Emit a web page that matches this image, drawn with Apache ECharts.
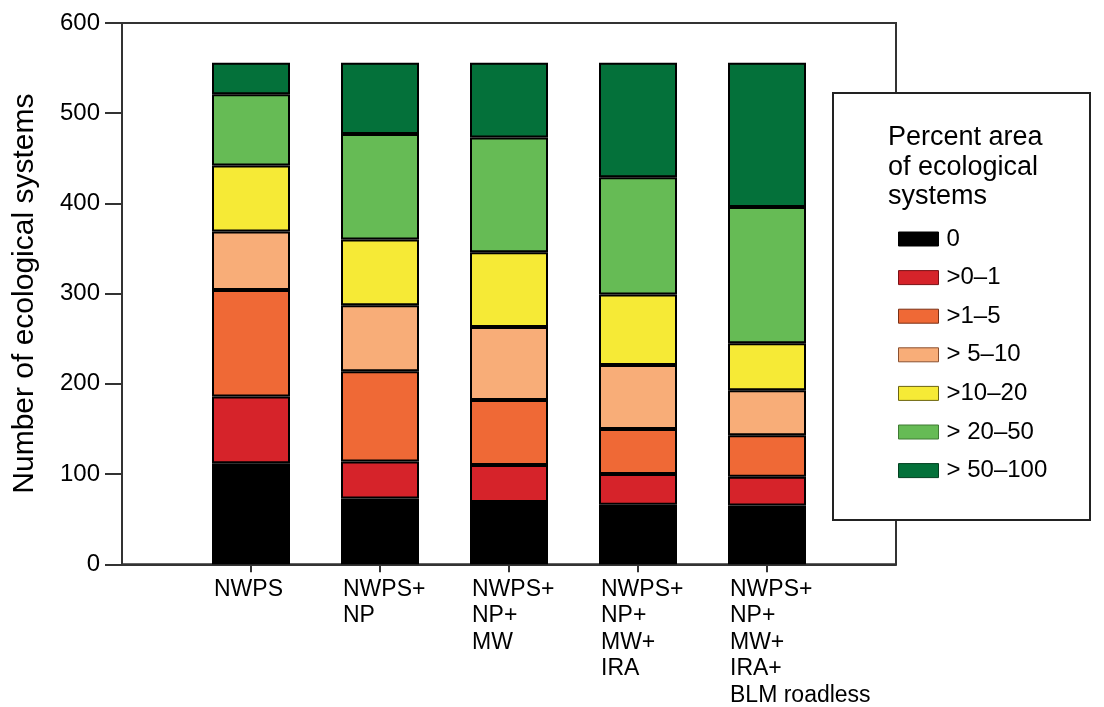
<!DOCTYPE html>
<html>
<head>
<meta charset="utf-8">
<script src="https://cdn.jsdelivr.net/npm/echarts@6/dist/echarts.min.js"></script>
<style>html,body{margin:0;padding:0;background:#fff;}#c{width:1104px;height:707px;}</style>
</head>
<body>
<div id="c"></div>
<script>
const categories = ['NWPS', 'NWPS+\nNP', 'NWPS+\nNP+\nMW', 'NWPS+\nNP+\nMW+\nIRA', 'NWPS+\nNP+\nMW+\nIRA+\nBLM roadless'];
const classNames = ['0', '>0–1', '>1–5', '> 5–10', '>10–20', '> 20–50', '> 50–100'];
const zero    = [112, 73, 69, 66, 65];
const r0_1    = [74, 41, 41, 34, 32];
const r1_5    = [118, 100, 72, 50, 46];
const r5_10   = [65, 73, 81, 71, 50];
const r10_20  = [73, 73, 83, 78, 52];
const r20_50  = [79, 117, 127, 130, 151];
const r50_100 = [35, 79, 83, 127, 160];
const yTicks = [0, 100, 200, 300, 400, 500, 600];

const colors = ['#000000', '#d6232a', '#ef6936', '#f8ad78', '#f6ea36', '#66bb55', '#04713a'];
const legendBorders = ['#000000', '#7a1014', '#7a3015', '#8a5030', '#6b6410', '#3f7a33', '#02401f'];
const seriesValues = [zero, r0_1, r1_5, r5_10, r10_20, r20_50, r50_100];
const FONT = '"Liberation Sans", Arial, Helvetica, sans-serif';

const axisCats = [''].concat(categories, ['']);

const chart = echarts.init(document.getElementById('c'), null, {renderer: 'canvas'});
chart.setOption({
  animation: false,
  backgroundColor: '#ffffff',
  textStyle: {fontFamily: FONT},
  grid: {left: 122, right: 208, top: 23, bottom: 142, show: true, borderColor: '#333', borderWidth: 2, backgroundColor: 'transparent'},
  xAxis: {
    type: 'category',
    data: axisCats,
    boundaryGap: false,
    axisLine: {show: true, lineStyle: {color: '#333', width: 2}},
    axisTick: {show: true, length: 8, lineStyle: {color: '#333', width: 2},
      interval: function (idx) { return idx > 0 && idx < axisCats.length - 1; }},
    axisLabel: {
      interval: 0,
      margin: 12,
      align: 'center',
      formatter: function (v) {
        if (!v) return '';
        return v.split('\n').map(function (l) { return '{a|' + l + '}'; }).join('\n');
      },
      rich: {a: {width: 74, align: 'left', fontSize: 23, lineHeight: 26.5, color: '#000', fontFamily: FONT}}
    },
    splitLine: {show: false}
  },
  yAxis: {
    type: 'value',
    min: yTicks[0],
    max: yTicks[yTicks.length - 1],
    interval: 100,
    name: 'Number of ecological systems',
    nameLocation: 'middle',
    nameGap: 82,
    nameTextStyle: {fontSize: 30, color: '#000', fontFamily: FONT},
    axisLine: {show: true, lineStyle: {color: '#333', width: 2}},
    axisTick: {show: true, length: 17, lineStyle: {color: '#333', width: 2}},
    axisLabel: {margin: 22, fontSize: 24, color: '#000', fontFamily: FONT},
    splitLine: {show: false}
  },
  legend: {
    orient: 'vertical',
    left: 898,
    top: 227,
    padding: 0,
    z: 20,
    itemWidth: 40,
    itemHeight: 14,
    itemGap: 14.6,
    selectedMode: false,
    textStyle: {fontSize: 24, lineHeight: 24, color: '#000', fontFamily: FONT, padding: [0, 0, 0, 3]},
    data: classNames.map(function (n, i) {
      return {name: n, icon: 'rect', itemStyle: {color: colors[i], borderColor: legendBorders[i], borderWidth: 1}};
    })
  },
  graphic: [
    {type: 'rect', z: 10, shape: {x: 833, y: 93, width: 257, height: 427},
     style: {fill: '#ffffff', stroke: '#222', lineWidth: 2}},
    {type: 'text', z: 21, x: 888, y: 123,
     style: {text: 'Percent area\nof ecological\nsystems', fontSize: 27, lineHeight: 29.5, fill: '#000', fontFamily: FONT, verticalAlign: 'top', align: 'left'}}
  ],
  series: seriesValues.map(function (vals, i) {
    return {
      name: classNames[i],
      type: 'bar',
      stack: 'total',
      barWidth: 78,
      data: [null].concat(vals, [null]),
      itemStyle: {color: colors[i], borderColor: '#000', borderWidth: 2}
    };
  })
});
</script>
</body>
</html>
